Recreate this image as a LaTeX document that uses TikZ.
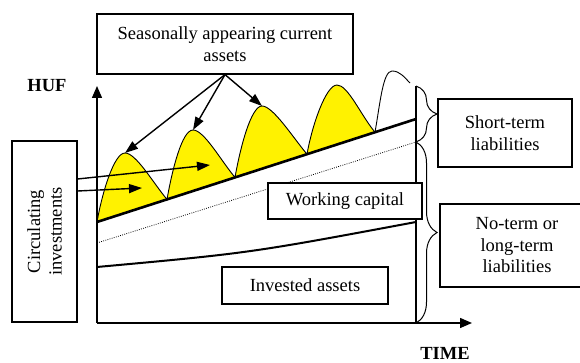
\documentclass[tikz,border=0pt]{standalone}
\usepackage{fontspec}
\setmainfont{Liberation Serif}
\usetikzlibrary{arrows.meta,decorations.pathreplacing}

\def\hump#1#2{ .. controls +(80:30) and +(-11,0) .. #1 .. controls +(11,0) and +(130:22) .. #2 }

\begin{document}
\begin{tikzpicture}[x=1pt,y=1pt,
   box/.style={draw, line width=1.2pt, fill=white, align=center, inner sep=0pt,
      font=\fontsize{18.5}{21.5}\selectfont},
   axis/.style={line width=1.4pt, -{Triangle[length=12pt,width=10pt]}},
   pointer/.style={line width=1.4pt, -{Triangle[length=13pt,width=9pt]}},
   bound/.style={line width=2.6pt},
   humpline/.style={line width=0.9pt},
   curly/.style={line width=1pt, decorate, decoration={brace, amplitude=21pt}},
   axislabel/.style={font=\bfseries\fontsize{18.5}{21.5}\selectfont}]
   \useasboundingbox (0,0) rectangle (580,363);
   \clip (0,0) rectangle (580,363);
   \coordinate (o) at (97,40);
   \coordinate (top) at (416,277);
   \coordinate (cut) at (416,221);
   \coordinate (bot) at (416,40);
   % seasonal humps on the upper line
   \coordinate (s0) at (97,141);
   \coordinate (s1) at (167,163.6);
   \coordinate (s2) at (235,185.6);
   \coordinate (s3) at (307,208.8);
   \coordinate (s4) at (375,230.8);
   \coordinate (p1) at (125,210);
   \coordinate (p2) at (193,233);
   \coordinate (p3) at (262,257);
   \coordinate (p4) at (337,278);
   \coordinate (p5) at (392,292);
   \coordinate (e5) at (410,280);
   \filldraw[fill=yellow, humpline] (s0) \hump{(p1)}{(s1)} \hump{(p2)}{(s2)}
      \hump{(p3)}{(s3)} \hump{(p4)}{(s4)} -- cycle;
   \draw[humpline] (s4) .. controls +(80:30) and +(-9,0) .. (p5)
      .. controls +(8,0) and +(135:8) .. (e5);
   \draw[bound] (s0) -- (416,244);
   \draw[line width=0.8pt, dash pattern=on 0.8pt off 1.4pt] (97,120) -- (cut);
   \draw[line width=2pt] (97,96) .. controls (250,110) .. (416,141);
   \draw[line width=1.2pt] (bot) -- (top);
   \draw[axis] (o) -- (97,277);
   \draw[axis] (o) -- (472,40);
   \draw[curly] (top) -- (cut);
   \draw[curly] (cut) -- (bot);
   \node[axislabel] (huf) at (47,277) {HUF};
   \node[axislabel, anchor=base, inner sep=0pt] (time) at (445,3) {TIME};
   \node[box, minimum width=256pt, minimum height=60pt] (season) at (225,319)
      {Seasonally appearing current\\assets};
   \node[box, rotate=90, minimum width=181pt, minimum height=65pt] (circ) at (44.5,131.5)
      {Circulating\\investments};
   \node[box, minimum width=154pt, minimum height=36pt] (wc) at (345,162) {Working capital};
   \node[box, minimum width=166pt, minimum height=37pt] (inv) at (305,77.5) {Invested assets};
   \node[box, minimum width=134pt, minimum height=68pt] (short) at (505,230)
      {Short-term\\liabilities};
   \node[box, minimum width=154pt, minimum height=83pt] (long) at (517,117.5)
      {No-term or\\long-term\\liabilities};
   \coordinate (a1) at (210,198);
   \coordinate (a2) at (142,175);
   \draw[pointer] (season.south) -- (p1);
   \draw[pointer] (season.south) -- (p2);
   \draw[pointer] (season.south) -- (p3);
   \draw[pointer] (circ.south |- 0,184) -- (a1);
   \draw[pointer] (circ.south |- 0,172) -- (a2);
\end{tikzpicture}
\end{document}
